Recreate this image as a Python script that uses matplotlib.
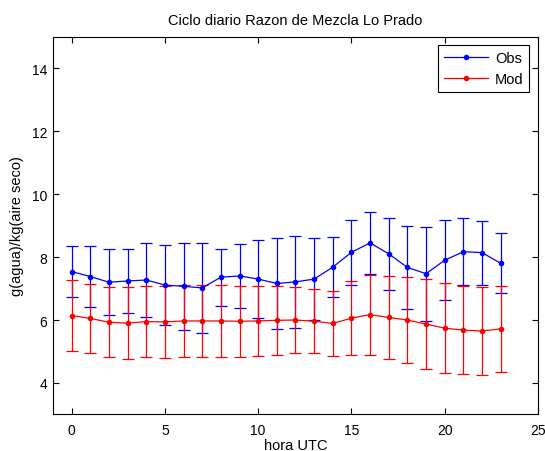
import matplotlib
matplotlib.use("Agg")
import matplotlib.pyplot as plt
import numpy as np

plt.rcParams['font.family'] = ['Liberation Sans', 'DejaVu Sans']

# Hourly mixing ratio: observed vs model, mean and std
hours = list(range(24))
obs_mean = [7.54, 7.38, 7.20, 7.24, 7.27, 7.11, 7.07, 7.02, 7.36, 7.40,
            7.30, 7.16, 7.21, 7.30, 7.68, 8.15, 8.45, 8.10, 7.67, 7.47,
            7.90, 8.17, 8.14, 7.80]
obs_std = [0.82, 0.97, 1.04, 1.02, 1.19, 1.28, 1.38, 1.43, 0.91, 1.01,
           1.24, 1.46, 1.46, 1.29, 0.95, 1.03, 0.98, 1.14, 1.33, 1.49,
           1.27, 1.07, 1.02, 0.95]
mod_mean = [6.14, 6.05, 5.93, 5.90, 5.95, 5.94, 5.97, 5.97, 5.97, 5.96,
            5.97, 5.99, 6.00, 5.96, 5.89, 6.06, 6.17, 6.08, 6.00, 5.87,
            5.74, 5.68, 5.65, 5.72]
mod_std = [1.12, 1.10, 1.12, 1.14, 1.14, 1.14, 1.15, 1.15, 1.15, 1.13,
           1.10, 1.10, 1.04, 1.02, 1.02, 1.17, 1.27, 1.31, 1.38, 1.42,
           1.42, 1.41, 1.39, 1.36]

fig = plt.figure(figsize=(5.45, 4.52), dpi=100)
ax = fig.add_axes([0.0972, 0.0808, 0.890, 0.836])

eb_obs = ax.errorbar(hours, obs_mean, yerr=obs_std, color='#0000ff', marker='.',
                     markersize=6, linewidth=0.9, elinewidth=0.9, capsize=4,
                     capthick=0.9)
eb_mod = ax.errorbar(hours, mod_mean, yerr=mod_std, color='#ff0000', marker='.',
                     markersize=6, linewidth=0.9, elinewidth=0.9, capsize=4,
                     capthick=0.9)

ax.set_xlim(-1, 25)
ax.set_ylim(3, 15)
ax.set_xticks([0, 5, 10, 15, 20, 25])
ax.set_yticks([4, 6, 8, 10, 12, 14])
ax.tick_params(direction='in', top=True, right=True, length=4,
               labelsize=10, width=0.8)
ax.tick_params(axis='x', pad=6)
ax.tick_params(axis='y', pad=4)
for s in ax.spines.values():
    s.set_linewidth(0.8)

ax.set_title('Ciclo diario Razon de Mezcla Lo Prado', fontsize=10.5, pad=9)
ax.set_xlabel('hora UTC', fontsize=10.5, labelpad=1)
ax.set_ylabel('g(agua)/kg(aire seco)', fontsize=10.5, labelpad=6)

# legend shows plain line + marker, no error bars
leg = ax.legend([eb_obs.lines[0], eb_mod.lines[0]], ['Obs', 'Mod'],
                loc='upper right', fontsize=10.5, fancybox=False,
                edgecolor='black', framealpha=1, handlelength=3.0,
                handletextpad=0.5, labelspacing=0.45, borderaxespad=0.6,
                borderpad=0.4)
leg.get_frame().set_linewidth(0.8)

fig.savefig('out.png', dpi=100, facecolor='white')
